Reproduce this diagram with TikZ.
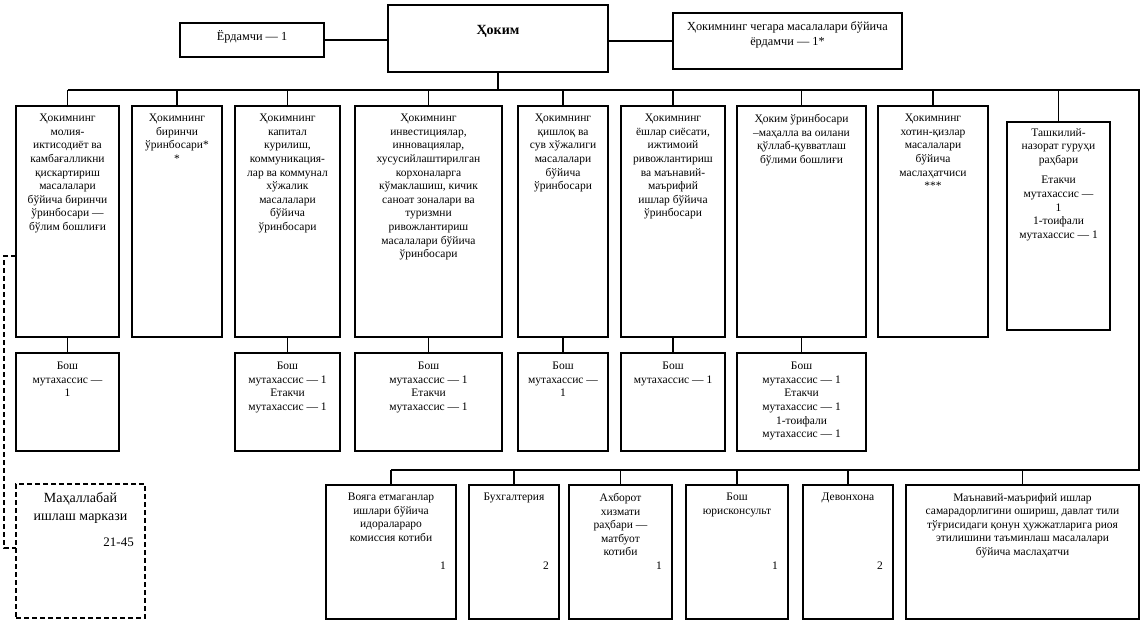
\documentclass[tikz,border=0pt]{standalone}
\usepackage{fontspec}
\setmainfont{Liberation Serif}
\tikzset{
  box/.style={draw, line width=1.1pt, inner sep=0pt, outer sep=0pt, anchor=north west},
  txt/.style={align=center, inner sep=0pt, anchor=north, font=\fontsize{11.5}{13.6}\selectfont},
  conn/.style={line width=1.1pt},
  dashconn/.style={line width=1.1pt, dash pattern=on 5pt off 3pt},
  num/.style={inner sep=0pt, anchor=base east, font=\fontsize{11.5}{13.6}\selectfont}
}
% #1 extra style, #2 name, #3 x1, #4 y1, #5 x2, #6 y2, #7 text offset, #8 text
\newcommand\orgbox[8][]{%
  \node[box,#1,minimum width={#5-#3},minimum height={#6-#4}] (#2) at (#3,#4) {};
  \node[txt] (#2t) at ([yshift=-#7pt]#2.north) {#8};}
\begin{document}
\begin{tikzpicture}[x=1pt,y=-1pt]
\useasboundingbox (0,0) rectangle (1148,637);

% top level
\node[box,minimum width=144,minimum height=34] (erd) at (180,23) {};
\node[txt, font=\fontsize{12.3}{15}\selectfont] (erdt) at ([yshift=-7pt]erd.north) {Ёрдамчи — 1};
\node[box,minimum width=220,minimum height=67] (hok) at (388,5) {};
\node[txt, font=\fontsize{14}{16}\selectfont\bfseries] (hokt) at ([yshift=-20pt]hok.north) {Ҳоким};
\node[box,minimum width=229,minimum height=56] (rt) at (673,13) {};
\node[txt, font=\fontsize{12.3}{15}\selectfont] (rtt) at ([yshift=-8pt]rt.north) {Ҳокимнинг чегара масалалари бўйича\\ ёрдамчи — 1*};

% first row
\orgbox{b1}{16}{106}{119}{337}{8}{Ҳокимнинг\\ молия-\\ иктисодиёт ва\\ камбағалликни\\ қискартириш\\ масалалари\\ бўйича биринчи\\ ўринбосари —\\ бўлим бошлиғи}
\orgbox{b2}{132}{106}{222}{337}{8}{Ҳокимнинг\\ биринчи\\ ўринбосари*\\ *}
\orgbox{b3}{235}{106}{340}{337}{8}{Ҳокимнинг\\ капитал\\ курилиш,\\ коммуникация-\\ лар ва коммунал\\ хўжалик\\ масалалари\\ бўйича\\ ўринбосари}
\orgbox{b4}{355}{106}{502}{337}{8}{Ҳокимнинг\\ инвестициялар,\\ инновациялар,\\ хусусийлаштирилган\\ корхоналарга\\ кўмаклашиш, кичик\\ саноат зоналари ва\\ туризмни\\ ривожлантириш\\ масалалари бўйича\\ ўринбосари}
\orgbox{b5}{518}{106}{608}{337}{8}{Ҳокимнинг\\ қишлоқ ва\\ сув хўжалиги\\ масалалари\\ бўйича\\ ўринбосари}
\orgbox{b6}{621}{106}{725}{337}{8}{Ҳокимнинг\\ ёшлар сиёсати,\\ ижтимоий\\ ривожлантириш\\ ва маънавий-\\ маърифий\\ ишлар бўйича\\ ўринбосари}
\orgbox{b7}{737}{106}{866}{337}{8}{Ҳоким ўринбосари\\ –маҳалла ва оилани\\ қўллаб-қувватлаш\\ бўлими бошлиғи}
\orgbox{b8}{878}{106}{988}{337}{8}{Ҳокимнинг\\ хотин-қизлар\\ масалалари\\ бўйича\\ маслаҳатчиси\\ ***}
\orgbox{b9}{1007}{122}{1110}{330}{6}{Ташкилий-\\ назорат гуруҳи\\ раҳбари\\[7pt] Етакчи\\ мутахассис —\\ 1\\ 1-тоифали\\ мутахассис — 1}

% second row
\orgbox{s1}{16}{353}{119}{451}{9}{Бош\\ мутахассис —\\ 1}
\orgbox{s3}{235}{353}{340}{451}{9}{Бош\\ мутахассис — 1\\ Етакчи\\ мутахассис — 1}
\orgbox{s4}{355}{353}{502}{451}{9}{Бош\\ мутахассис — 1\\ Етакчи\\ мутахассис — 1}
\orgbox{s5}{518}{353}{608}{451}{9}{Бош\\ мутахассис —\\ 1}
\orgbox{s6}{621}{353}{725}{451}{9}{Бош\\ мутахассис — 1}
\orgbox{s7}{737}{353}{866}{451}{9}{Бош\\ мутахассис — 1\\ Етакчи\\ мутахассис — 1\\ 1-тоифали\\ мутахассис — 1}

% bottom row
\orgbox{bA}{326}{485}{456}{619}{8}{Вояга етмаганлар\\ ишлари бўйича\\ идоралараро\\ комиссия котиби}
\orgbox{bB}{469}{485}{559}{619}{8}{Бухгалтерия}
\orgbox{bC}{569}{485}{672}{619}{8}{Ахборот\\ хизмати\\ раҳбари —\\ матбуот\\ котиби}
\orgbox{bD}{686}{485}{788}{619}{8}{Бош\\ юрисконсульт}
\orgbox{bE}{803}{485}{893}{619}{8}{Девонхона}
\orgbox{bF}{906}{485}{1139}{619}{8}{Маънавий-маърифий ишлар\\ самарадорлигини ошириш, давлат тили\\ тўғрисидаги қонун ҳужжатларига риоя\\ этилишини таъминлаш масалалари\\ бўйича маслаҳатчи}

% dashed centre box
\node[box, dash pattern=on 5pt off 3pt, minimum width=129, minimum height=134] (mah) at (16,484) {};
\node[txt, font=\fontsize{14}{18}\selectfont] (maht) at ([yshift=-8pt]mah.north) {Маҳаллабай\\ ишлаш маркази};

% numbers
\coordinate (numrow) at (0,569);
\coordinate (mahrow) at (0,546);
\node[num] (nA) at ([xshift=-10pt]bA.east |- numrow) {1};
\node[num] (nB) at ([xshift=-10pt]bB.east |- numrow) {2};
\node[num] (nC) at ([xshift=-10pt]bC.east |- numrow) {1};
\node[num] (nD) at ([xshift=-10pt]bD.east |- numrow) {1};
\node[num] (nE) at ([xshift=-10pt]bE.east |- numrow) {2};
\node[num, font=\fontsize{13}{15}\selectfont] (nM) at ([xshift=-11pt]mah.east |- mahrow) {21-45};

% connectors
\coordinate (busTR) at (1139,90);
\coordinate (busBR) at (1139,470);
\draw[conn] (erd.east) -- (erd.east -| hok.west);
\draw[conn] (rt.west) -- (rt.west -| hok.east);
\draw[conn] (hok.south) -- (hok.south |- busTR);
\draw[conn] (b1.north |- busTR) -- (busTR) -- (busBR) -- (bA.north |- busBR);
\foreach \n in {b1,b2,b3,b4,b5,b6,b7,b8,b9}
  \draw[conn] (\n.north) -- (\n.north |- busTR);
\foreach \n in {bA,bB,bC,bD,bE,bF}
  \draw[conn] (\n.north) -- (\n.north |- busBR);
\foreach \a/\b in {b1/s1,b3/s3,b4/s4,b5/s5,b6/s6,b7/s7}
  \draw[conn] (\a.south) -- (\b.north);
\coordinate (dA) at (4,256);
\coordinate (dB) at (4,548);
\draw[dashconn] (dA -| b1.west) -- (dA) -- (dB) -- (dB -| mah.west);
\end{tikzpicture}
\end{document}
